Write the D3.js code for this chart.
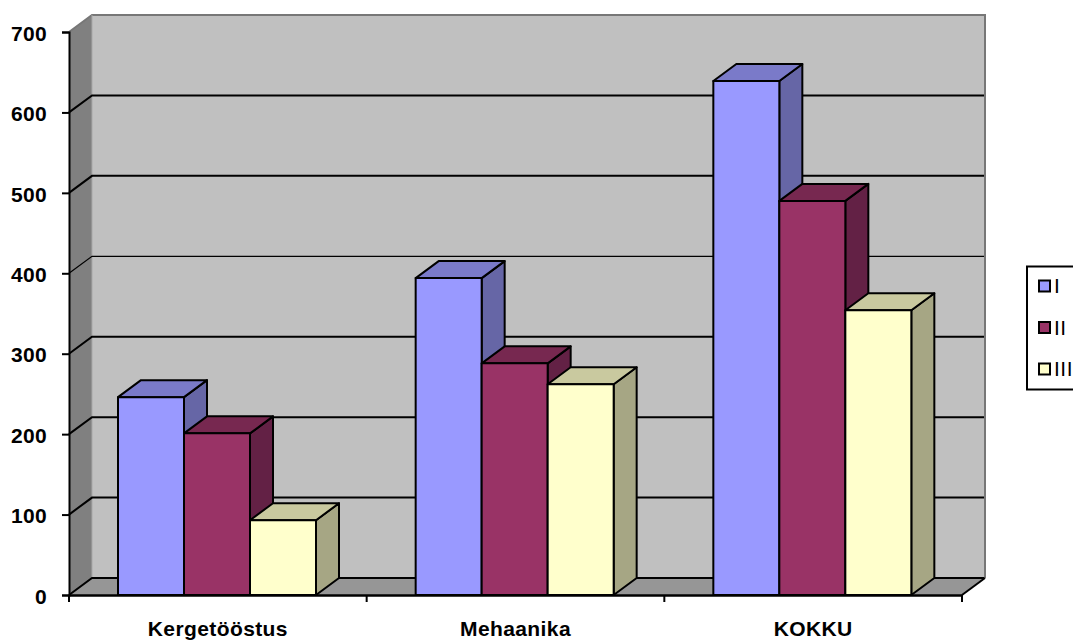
<!DOCTYPE html>
<html>
<head>
<meta charset="utf-8">
<script src="https://cdn.jsdelivr.net/npm/d3@7/dist/d3.min.js"></script>
<style>
  html, body { margin: 0; padding: 0; background: #fff; overflow: hidden; }
  svg { display: block; }
  text { font-family: "Liberation Sans", Arial, sans-serif; fill: #000; }
</style>
</head>
<body>
<svg id="chart" width="1073" height="642"></svg>
<script>
// Chart data
const categories = ["Kergetööstus", "Mehaanika", "KOKKU"];
const seriesNames = ["I", "II", "III"];
const seriesI = [246, 394, 639];
const seriesII = [201, 288, 490];
const seriesIII = [93, 262, 354];
const yTicks = [0, 100, 200, 300, 400, 500, 600, 700];

// Face colours per series: front, top, side
const faceColors = [
  { front: "#9999ff", top: "#7a7ac9", side: "#6666a6" },
  { front: "#993366", top: "#772850", side: "#632145" },
  { front: "#ffffcc", top: "#c9c99f", side: "#a6a684" }
];

const svg = d3.select("#chart");
const depthX = 23, depthY = -17;
const plotLeft = 69, plotRight = 962, plotBase = 595, plotTop = 32;
const labelSize = 21;

const y = d3.scaleLinear().domain([0, 700]).range([plotBase, plotTop]);
const x0 = d3.scaleBand().domain(categories).range([plotLeft, plotRight]);
const x1 = d3.scaleBand().domain(seriesNames).range([49, 247]);
const allValues = [seriesI, seriesII, seriesIII];

const poly = (pts, fill, stroke, w) => svg.append("polygon")
  .attr("points", pts.map(p => p.join(",")).join(" "))
  .attr("fill", fill)
  .attr("stroke", stroke || "none")
  .attr("stroke-width", w || 0)
  .attr("stroke-linejoin", "round");

// Walls and floor of the 3D box
poly([[plotLeft + depthX, y(700) + depthY], [plotRight + depthX, y(700) + depthY], [plotRight + depthX, plotBase + depthY], [plotLeft + depthX, plotBase + depthY]], "#c0c0c0");
poly([[plotLeft, y(700)], [plotLeft + depthX, y(700) + depthY], [plotLeft + depthX, plotBase + depthY], [plotLeft, plotBase]], "#808080");
poly([[plotLeft, plotBase], [plotLeft + depthX, plotBase + depthY], [plotRight + depthX, plotBase + depthY], [plotRight, plotBase]], "#969696");

// Wall edges
svg.append("path")
  .attr("d", `M${plotLeft},${y(700)}L${plotLeft + depthX},${y(700) + depthY}H${plotRight + depthX}V${plotBase + depthY}`)
  .attr("fill", "none").attr("stroke", "#777").attr("stroke-width", 2);
svg.append("line")
  .attr("x1", plotLeft + depthX).attr("x2", plotLeft + depthX)
  .attr("y1", y(700) + depthY).attr("y2", plotBase + depthY)
  .attr("stroke", "#a8a8a8").attr("stroke-width", 1);

// Gridlines running along the left wall and across the back wall
svg.append("g").selectAll("path").data(yTicks.filter(d => d < 700)).join("path")
  .attr("d", d => `M${plotLeft},${y(d)}L${plotLeft + depthX},${y(d) + depthY}H${plotRight + depthX - 1}`)
  .attr("fill", "none").attr("stroke", "#000")
  .attr("stroke-width", d => d === 400 ? 1.2 : 2);

// Bars, drawn left to right so each one covers the side of its neighbour
categories.forEach((cat, c) => {
  seriesNames.forEach((name, s) => {
    const v = allValues[s][c];
    const xa = x0(cat) + x1(name), xb = xa + x1.bandwidth();
    const yt = y(v), col = faceColors[s];
    poly([[xb, yt], [xb + depthX, yt + depthY], [xb + depthX, plotBase + depthY], [xb, plotBase]], col.side, "#000", 2);
    poly([[xa, yt], [xa + depthX, yt + depthY], [xb + depthX, yt + depthY], [xb, yt]], col.top, "#000", 2);
    poly([[xa, yt], [xb, yt], [xb, plotBase], [xa, plotBase]], col.front, "#000", 2);
  });
});

// Value axis
const yAxis = svg.append("g")
  .attr("transform", `translate(${plotLeft},0)`)
  .call(d3.axisLeft(y).tickValues(yTicks).tickSize(7).tickPadding(15).tickFormat(d3.format("d")));
yAxis.selectAll("line, path").attr("stroke", "#000").attr("stroke-width", 2);
yAxis.selectAll("text")
  .attr("font-size", labelSize).attr("font-weight", "bold")
  .attr("y", 1.5)
  .attr("letter-spacing", 0.3)
  .style("font-family", '"Liberation Sans", Arial, sans-serif');

// Category axis: labels centred in each band, ticks on the band boundaries
const xAxis = svg.append("g")
  .attr("transform", `translate(0,${plotBase})`)
  .call(d3.axisBottom(x0).tickSize(0).tickPadding(26));
xAxis.select("path").attr("stroke", "#000").attr("stroke-width", 2.5);
xAxis.selectAll("text")
  .attr("font-size", labelSize).attr("font-weight", "bold")
  .attr("letter-spacing", 0.4)
  .style("font-family", '"Liberation Sans", Arial, sans-serif');
const boundaries = categories.map(c => x0(c)).concat(plotRight);
svg.append("g").selectAll("line").data(boundaries).join("line")
  .attr("x1", d => d).attr("x2", d => d)
  .attr("y1", plotBase).attr("y2", plotBase + 7)
  .attr("stroke", "#000").attr("stroke-width", 2);
svg.append("line")
  .attr("x1", plotRight).attr("y1", plotBase)
  .attr("x2", plotRight + depthX).attr("y2", plotBase + depthY)
  .attr("stroke", "#000").attr("stroke-width", 2);

// Legend box, running off the right edge of the page
svg.append("rect")
  .attr("x", 1027).attr("y", 266.5).attr("width", 60).attr("height", 123)
  .attr("fill", "#fff").attr("stroke", "#000").attr("stroke-width", 2);
const legendY = d3.scalePoint().domain(seriesNames).range([286, 369]);
seriesNames.forEach((name, s) => {
  const cy = legendY(name);
  svg.append("rect")
    .attr("x", 1039).attr("y", cy - 5.5).attr("width", 11).attr("height", 11)
    .attr("fill", faceColors[s].front).attr("stroke", "#000").attr("stroke-width", 2);
  svg.append("text")
    .attr("x", 1054).attr("y", cy + 7)
    .attr("font-size", labelSize)
    .attr("letter-spacing", 0.5)
    .text(name);
});
</script>
</body>
</html>
